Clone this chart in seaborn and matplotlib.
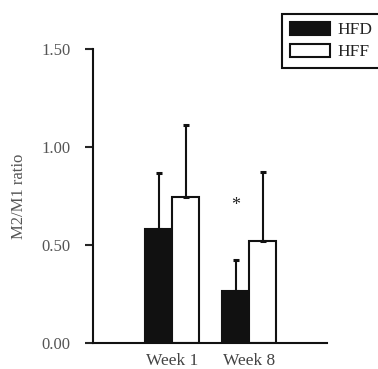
import pandas as pd
import matplotlib.pyplot as plt
import seaborn as sns

weeks = ['Week 1', 'Week 8']
groups = ['HFD', 'HFF']
hfd_mean = [0.58, 0.265]
hff_mean = [0.745, 0.52]
hfd_err = [0.285, 0.16]
hff_err = [0.365, 0.35]
star_y = 0.70

sns.set_style('ticks')
plt.rcParams['font.family'] = ['Liberation Serif', 'DejaVu Serif']
plt.rcParams['font.size'] = 12

df = pd.DataFrame({
    'week': weeks * 2,
    'group': ['HFD'] * 2 + ['HFF'] * 2,
    'ratio': hfd_mean + hff_mean,
})

fig = plt.figure(figsize=(3.78, 3.69), dpi=100)
ax = fig.add_axes([93 / 378, 1 - 343 / 369, 234 / 378, 294 / 369])

sns.barplot(data=df, x='week', y='ratio', hue='group', hue_order=groups,
            palette={'HFD': '#111111', 'HFF': 'white'}, width=0.7,
            edgecolor='#111111', linewidth=1.5, errorbar=None, ax=ax)

# upper-only error bars, placed at each bar's centre
errs = {'HFD': hfd_err, 'HFF': hff_err}
means = {'HFD': hfd_mean, 'HFF': hff_mean}
for cont, g in zip(ax.containers, groups):
    xs = [p.get_x() + p.get_width() / 2 for p in cont]
    ax.errorbar(xs, means[g], yerr=[[0, 0], errs[g]], fmt='none',
                ecolor='#111111', elinewidth=1.5, capsize=2, capthick=2.2,
                zorder=1)

hfd8 = ax.containers[0][1]
ax.text(hfd8.get_x() + hfd8.get_width() / 2, star_y, '*', ha='center',
        va='center', fontsize=13, color='#222222')

ax.set_ylim(0, 1.5)
ax.set_xlim(-1.026, 2.01)
ax.set_yticks([0, 0.5, 1.0, 1.5])
ax.set_yticklabels(['0.00', '0.50', '1.00', '1.50'], color='#555555')
ax.set_xticklabels(weeks, color='#444444', fontsize=12.5)
ax.set_xlabel('')
ax.set_ylabel('M2/M1 ratio', color='#555555', fontsize=12)
ax.yaxis.set_label_coords(-0.28, 0.5)
ax.tick_params(axis='y', length=5.8, width=1.5, pad=10.5, labelsize=12)
ax.tick_params(axis='x', length=0, pad=7)
for s in ['top', 'right']:
    ax.spines[s].set_visible(False)
for s in ['left', 'bottom']:
    ax.spines[s].set_linewidth(1.5)
    ax.spines[s].set_color('#111111')

ax.legend_.remove()
leg = fig.legend(handles=ax.containers[0][:1] + ax.containers[1][:1],
                 labels=groups, loc='upper left',
                 bbox_to_anchor=(282 / 378, 1 - 14 / 369), borderaxespad=0,
                 frameon=True, fancybox=False, framealpha=1,
                 handlelength=2.3, handleheight=0.8, handletextpad=0.45,
                 borderpad=0.45, labelspacing=0.3, fontsize=12.5)
leg.get_frame().set_edgecolor('#111111')
leg.get_frame().set_linewidth(1.5)
for t in leg.get_texts():
    t.set_color('#222222')

fig.savefig('out.png', dpi=100)
